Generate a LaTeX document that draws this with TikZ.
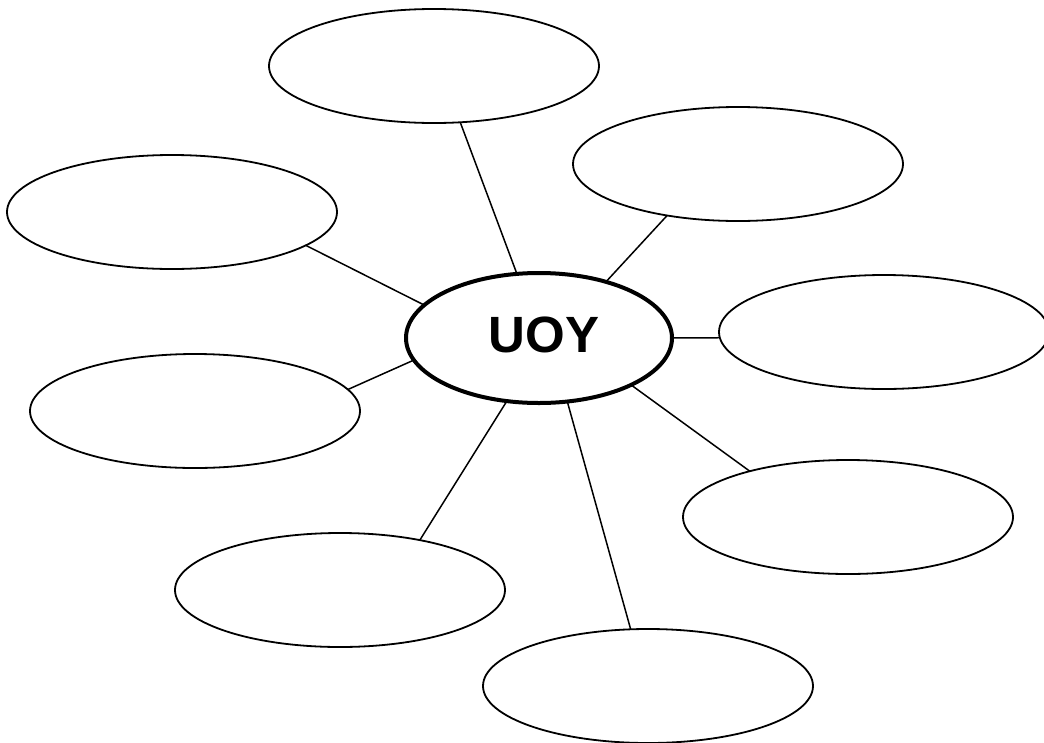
\documentclass[tikz,border=0pt]{standalone}
\usepackage{fontspec}
\setmainfont{Liberation Sans}
\usetikzlibrary{shapes.geometric}
\tikzset{
  bubble/.style={ellipse, draw=black, line width=1.8pt, minimum width=330pt, minimum height=114pt, inner sep=0pt, outer sep=0pt},
  hub/.style={ellipse, draw=black, line width=4pt, minimum width=266pt, minimum height=130pt, inner sep=0pt, outer sep=0pt, font=\fontsize{51}{54}\selectfont\bfseries},
  spoke/.style={draw=black, line width=1.5pt}
}
\begin{document}
\begin{tikzpicture}[x=1pt,y=-1pt]
\useasboundingbox (0,0) rectangle (1044,742);
\fill[white] (0,0) rectangle (1044,742);
\node[hub] (C) at (539,338) {\hspace*{10pt}\raisebox{6pt}{UOY}};
\node[bubble] (T) at (434,66) {};
\node[bubble] (UR) at (738,164) {};
\node[bubble] (LU) at (172,212) {};
\node[bubble] (R) at (884,332) {};
\node[bubble] (LL) at (195,411) {};
\node[bubble] (RL) at (848,517) {};
\node[bubble] (BL) at (340,590) {};
\node[bubble] (B) at (648,686) {};
\draw[spoke] (T.-65.5) -- (C.109.4);
\draw[spoke] (UR.216.7) -- (C.40.2);
\draw[spoke] (LU.-14.5) -- (C.164.1);
\draw[spoke] (R.182.1) -- (C.-0.9);
\draw[spoke] (LL.8.6) -- (C.190.5);
\draw[spoke] (RL.155.3) -- (C.-27.8);
\draw[spoke] (BL.32.4) -- (C.243.4);
\draw[spoke] (B.107.5) -- (C.-66.4);
\end{tikzpicture}
\end{document}
